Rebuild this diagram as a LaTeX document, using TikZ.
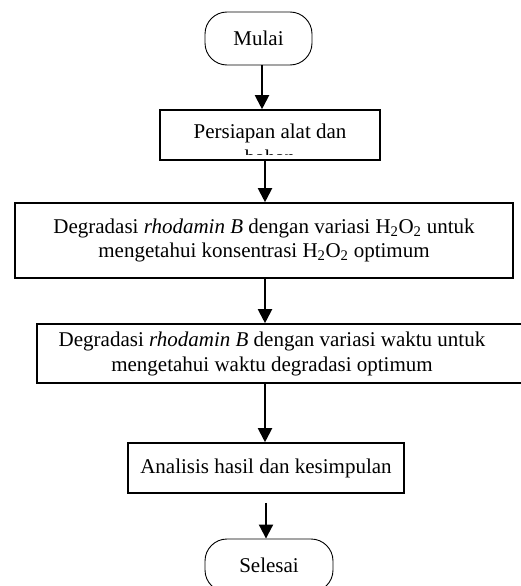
\documentclass[tikz,border=0pt]{standalone}
\usepackage{fontspec}
\setmainfont{Liberation Serif}
\usetikzlibrary{arrows.meta}
\begin{document}
\begin{tikzpicture}[x=1pt,y=-1pt,
  every node/.style={font=\fontsize{21}{24.5}\selectfont},
  proc/.style={draw, line width=1.6pt, inner sep=0pt, align=center},
  term/.style={draw, line width=0.9pt, rounded corners=22pt, inner sep=0pt},
  arr/.style={line width=2pt, -{Triangle[width=14pt,length=14pt]}},
  lbl/.style={align=center, inner sep=0pt}]
\useasboundingbox (0,0) rectangle (521,586);
\clip (0,0) rectangle (521,586);

\node[term, minimum width=107pt, minimum height=53pt] (mulai) at (258.5,38.5) {Mulai};

\node[proc, minimum width=220pt, minimum height=50pt] (box1) at (270,135) {};
\begin{scope}
  \clip (box1.north west) rectangle ([yshift=6pt]box1.south east);
  \node[lbl, anchor=base] (t1a) at (270,138) {Persiapan alat dan};
  \node[lbl, anchor=base] (t1b) at (270,164) {bahan};
\end{scope}

\node[proc, minimum width=498pt, minimum height=75pt] (box2) at (264,240.5)
  {Degradasi \textit{rhodamin B} dengan variasi H\textsubscript{2}O\textsubscript{2} untuk\\mengetahui konsentrasi H\textsubscript{2}O\textsubscript{2} optimum};

\node[proc, minimum width=493pt, minimum height=59pt] (box3) at (283.5,353.5) {};
\node[lbl] (t3) at (272,354)
  {Degradasi \textit{rhodamin B} dengan variasi waktu untuk\\mengetahui waktu degradasi optimum};

\node[proc, minimum width=276pt, minimum height=50pt] (box4) at (266,468) {Analisis hasil dan kesimpulan};

\node[term, minimum width=128pt, minimum height=53pt] (selesai) at (269,565.5) {Selesai};

\coordinate (ax1) at (262,0);
\coordinate (ax) at (265,0);
\coordinate (ax5) at (266,0);
\coordinate (a5) at ([yshift=-9pt]box4.south);

\draw[arr] (mulai.south -| ax1) -- (box1.north -| ax1);
\draw[arr] (box1.south -| ax) -- (box2.north -| ax);
\draw[arr] (box2.south -| ax) -- (box3.north -| ax);
\draw[arr] (box3.south -| ax) -- (box4.north -| ax);
\draw[arr] (a5 -| ax5) -- (selesai.north -| ax5);
\end{tikzpicture}
\end{document}
